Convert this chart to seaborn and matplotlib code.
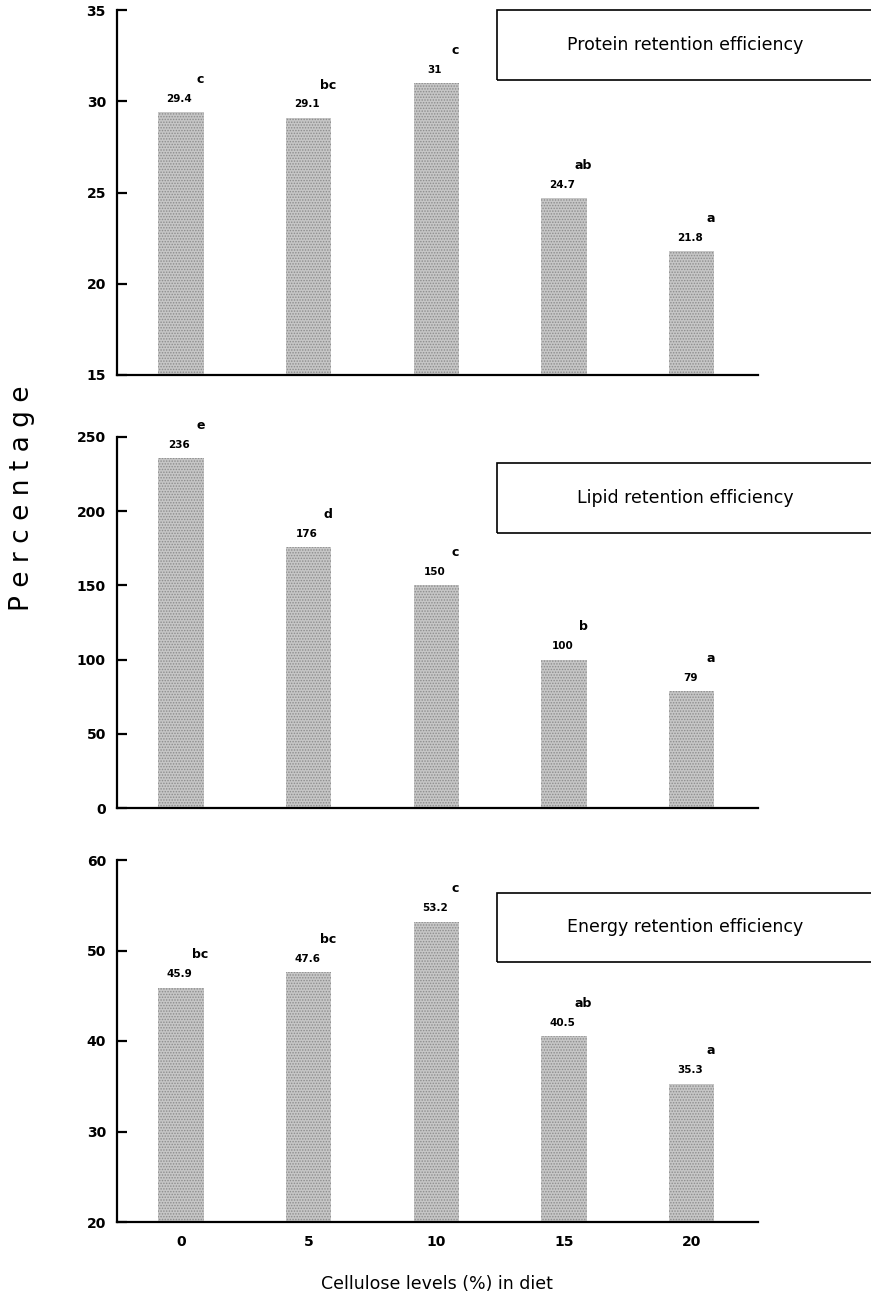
import matplotlib
matplotlib.use("Agg")
import matplotlib.pyplot as plt
from matplotlib.patches import Rectangle
import pandas as pd
import seaborn as sns

sns.set_style('white')
plt.rcParams['font.family'] = ['DejaVu Sans']
plt.rcParams['hatch.linewidth'] = 0.7
plt.rcParams['text.color'] = 'black'
plt.rcParams['xtick.color'] = 'black'
plt.rcParams['ytick.color'] = 'black'

levels = ['0', '5', '10', '15', '20']

protein = [29.4, 29.1, 31.0, 24.7, 21.8]
protein_txt = ['29.4', '29.1', '31', '24.7', '21.8']
protein_sig = ['c', 'bc', 'c', 'ab', 'a']

lipid = [236, 176, 150, 100, 79]
lipid_txt = ['236', '176', '150', '100', '79']
lipid_sig = ['e', 'd', 'c', 'b', 'a']

energy = [45.9, 47.6, 53.2, 40.5, 35.3]
energy_txt = ['45.9', '47.6', '53.2', '40.5', '35.3']
energy_sig = ['bc', 'bc', 'c', 'ab', 'a']

panels = [
    ('Protein retention efficiency', protein, protein_txt, protein_sig, (15, 35), [15, 20, 25, 30, 35]),
    ('Lipid retention efficiency', lipid, lipid_txt, lipid_sig, (0, 250), [0, 50, 100, 150, 200, 250]),
    ('Energy retention efficiency', energy, energy_txt, energy_sig, (20, 60), [20, 30, 40, 50, 60]),
]

W, H = 871, 1299
fig = plt.figure(figsize=(W / 100, H / 100), dpi=100)

# axes rectangles in pixels: (top, bottom)
rows = [(10, 375), (437, 808), (860, 1222)]
boxes = [(10, 80), (463, 533), (893, 962)]
x0, x1 = 117, 758

for i, (title, vals, txt, sig, ylim, yt) in enumerate(panels):
    top, bot = rows[i]
    ax = fig.add_axes([x0 / W, 1 - bot / H, (x1 - x0) / W, (bot - top) / H])
    df = pd.DataFrame({'level': levels, 'value': vals})
    sns.barplot(data=df, x='level', y='value', ax=ax, color='#c6c6c6',
                width=0.355, saturation=1, linewidth=0)
    for p in ax.patches:
        p.set_hatch('......')
        p.set_edgecolor('#8c8c8c')
        p.set_linewidth(0)
    for j, p in enumerate(ax.patches):
        cx = p.get_x() + p.get_width() / 2
        h = p.get_height()
        ax.annotate(txt[j], (cx, h), xytext=(-1, 9.5), textcoords='offset points',
                    ha='center', va='center', fontsize=7.5, fontweight='bold')
        ax.annotate(sig[j], (cx, h), xytext=(14, 23.5), textcoords='offset points',
                    ha='center', va='center', fontsize=9, fontweight='bold')
    ax.set_ylim(*ylim)
    ax.set_yticks(yt)
    ax.set_xlim(-0.5, 4.52)
    ax.set_ylabel('')
    ax.set_xlabel('')
    sns.despine(ax=ax)
    for s in ['left', 'bottom']:
        ax.spines[s].set_linewidth(1.6)
        ax.spines[s].set_color('black')
    ax.tick_params(axis='y', left=True, direction='in', length=7, width=1.6,
                   labelsize=10, pad=8)
    for lab in ax.get_yticklabels():
        lab.set_fontweight('bold')
    if i < 2:
        ax.tick_params(axis='x', length=0, labelbottom=False)
    else:
        ax.tick_params(axis='x', length=0, labelsize=10, pad=9)
        for lab in ax.get_xticklabels():
            lab.set_fontweight('bold')

    # title box, runs off the right edge
    bt, bb = boxes[i]
    fig.add_artist(Rectangle((497 / W, 1 - bb / H), 400 / W, (bb - bt) / H,
                             transform=fig.transFigure, fill=False,
                             edgecolor='black', linewidth=1.2))
    fig.text(685 / W, 1 - (bt + bb) / 2 / H, title, ha='center', va='center', fontsize=12.5)

fig.text(22 / W, 1 - 498 / H, 'P e r c e n t a g e', rotation=90,
         ha='center', va='center', fontsize=19)
fig.text(437 / W, 1 - 1284 / H, 'Cellulose levels (%) in diet',
         ha='center', va='center', fontsize=12.5)

fig.savefig('out.png', dpi=100)
